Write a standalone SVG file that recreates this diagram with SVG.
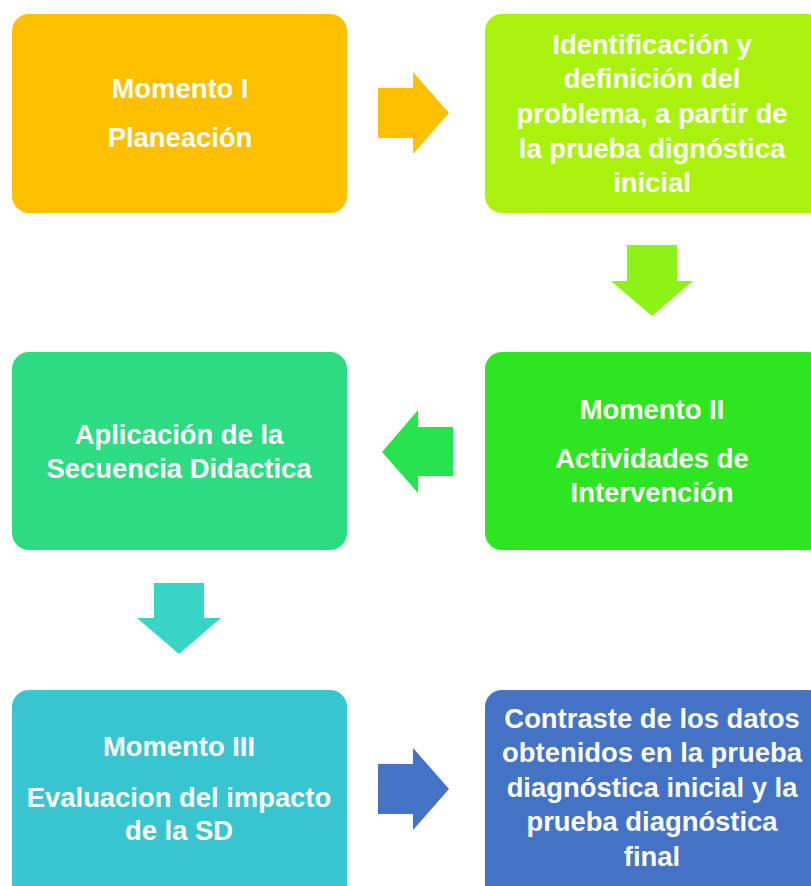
<svg xmlns="http://www.w3.org/2000/svg" width="811" height="886" viewBox="0 0 811 886">
<style>
text{font-family:"Liberation Sans",Arial,sans-serif;font-weight:bold;font-size:27.4px;fill:#fff;text-anchor:middle}
</style>
<rect width="811" height="886" fill="#fff"/>
<g id="connectors">
<polygon points="378,88 413,88 413,72 449,113 413,154 413,138 378,138" fill="#FFC000"/>
<polygon points="627,245 677,245 677,281 693,281 652,316 611,281 627,281" fill="#8CF218"/>
<polygon points="453,427 418,427 418,410 382,452 418,493 418,476 453,476" fill="#26E34E"/>
<polygon points="154,583 204,583 204,618 221,618 179,654 137,618 154,618" fill="#38D5C6"/>
<polygon points="378,764 413,764 413,748 449,789 413,830 413,814 378,814" fill="#4472C4"/>
</g>
<g id="n1"><rect x="12" y="14" width="335" height="199" rx="17" fill="#FFC000"/>
<text x="180" y="98">Momento I</text><text x="180" y="147">Planeación</text></g>
<g id="n2"><rect x="485" y="14" width="340" height="199" rx="17" fill="#A9F20E"/>
<text x="652" y="54">Identificación y</text><text x="652" y="88">definición del</text><text x="652" y="123">problema, a partir de</text><text x="652" y="158">la prueba dignóstica</text><text x="652" y="192">inicial</text></g>
<g id="n3"><rect x="485" y="352" width="340" height="198" rx="17" fill="#2DE620"/>
<text x="652" y="419">Momento II</text><text x="652" y="468">Actividades de</text><text x="652" y="502">Intervención</text></g>
<g id="n4"><rect x="12" y="352" width="335" height="198" rx="17" fill="#2DDB82"/>
<text x="179" y="444">Aplicación de la</text><text x="179" y="478">Secuencia Didactica</text></g>
<g id="n5"><rect x="12" y="690" width="335" height="220" rx="17" fill="#38C5D0"/>
<text x="179" y="756">Momento III</text><text x="179" y="807">Evaluacion del impacto</text><text x="179" y="840">de la SD</text></g>
<g id="n6"><rect x="485" y="690" width="340" height="220" rx="17" fill="#4472C4"/>
<text x="652" y="728">Contraste de los datos</text><text x="652" y="762">obtenidos en la prueba</text><text x="652" y="797">diagnóstica inicial y la</text><text x="652" y="831">prueba diagnóstica</text><text x="652" y="866">final</text></g>
</svg>
